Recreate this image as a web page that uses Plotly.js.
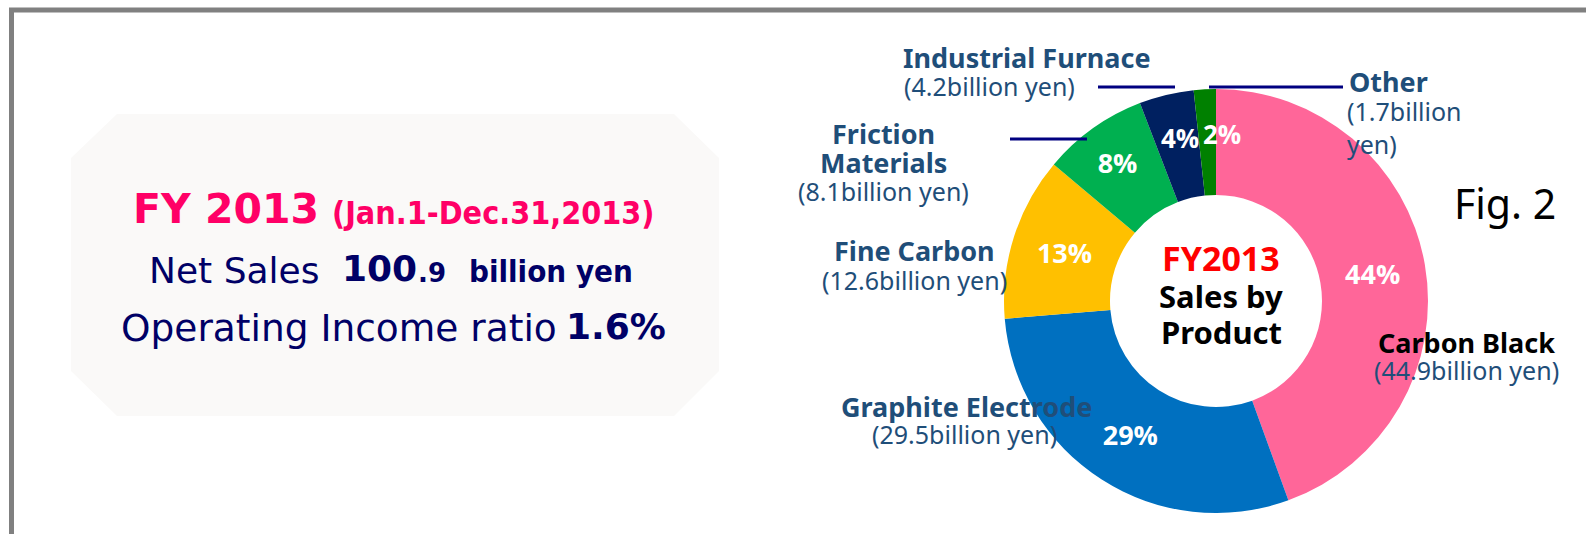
<!DOCTYPE html>
<html>
<head>
<meta charset="utf-8">
<script src="https://cdn.plot.ly/plotly-3.0.1.min.js"></script>
<style>
  html, body { margin: 0; padding: 0; background: #ffffff; }
  #chart { width: 1586px; height: 534px; }
</style>
</head>
<body>
<div id="chart"></div>
<script>
// ---- data ----
const categories = ['Carbon Black', 'Graphite Electrode', 'Fine Carbon', 'Friction Materials', 'Industrial Furnace', 'Other'];
const salesBillionYen = [44.9, 29.5, 12.6, 8.1, 4.2, 1.7];
const percentLabels = ['44%', '29%', '13%', '8%', '4%', '2%'];
const amountLabels = ['(44.9billion yen)', '(29.5billion yen)', '(12.6billion yen)', '(8.1billion yen)', '(4.2billion yen)', '(1.7billion<br>yen)'];
const sliceColors = ['#FF6699', '#0070C0', '#FFC000', '#00B050', '#002060', '#008000'];
const centerTitle = ['FY2013', 'Sales by', 'Product'];
const summaryTitle = 'FY 2013';
const summaryPeriod = '(Jan.1-Dec.31,2013)';
const netSales = ['100', '.9'];
const opRatio = '1.6%';
const figLabel = 'Fig. 2';

// ---- geometry helpers ----
const W = 1586, H = 534;
const X = px => px / W;
const Y = py => 1 - py / H;

const pieCx = 1216, pieCy = 301, pieR = 212;
const smallSlice = [false, false, false, false, true, true];

const LBL = '#1F4E79';
const NAVY = '#000066';
const labelFont = 'Noto Sans, Open Sans, sans-serif';

function txt(x, y, text, size, color, bold, anchor, family, extra) {
  return Object.assign({
    xref: 'paper', yref: 'paper', x: X(x), y: Y(y), text: text, showarrow: false,
    xanchor: anchor || 'center', yanchor: 'middle',
    font: { family: family || labelFont, size: size, color: color, weight: bold ? 700 : 400 }
  }, extra || {});
}

const annotations = [];
const shapes = [];

// frame (top + left edges)
shapes.push({ type: 'line', xref: 'paper', yref: 'paper', x0: X(9), x1: 1, y0: Y(10), y1: Y(10), line: { color: '#808080', width: 5 } });
shapes.push({ type: 'line', xref: 'paper', yref: 'paper', x0: X(11.5), x1: X(11.5), y0: Y(8), y1: 0, line: { color: '#808080', width: 5 } });

// summary panel (chamfered box)
const pts = [[117,114],[674,114],[719,158],[719,371],[674,416],[117,416],[71,371],[71,158]];
shapes.push({
  type: 'path', xref: 'paper', yref: 'paper', layer: 'below',
  path: 'M ' + pts.map(p => X(p[0]) + ',' + Y(p[1])).join(' L ') + ' Z',
  fillcolor: '#FAF9F8', line: { width: 0 }
});

// summary panel text
const PINK = '#FF0066';
annotations.push(txt(131, 209, summaryTitle, 41, PINK, true, 'left', 'DejaVu Sans'));
annotations.push(txt(330, 213, summaryPeriod, 32, PINK, true, 'left', 'DejaVu Sans Condensed, DejaVu Sans'));
annotations.push(txt(147, 270, 'Net Sales', 36, NAVY, false, 'left', 'DejaVu Sans'));
annotations.push(txt(340, 268, netSales[0], 36, NAVY, true, 'left', 'DejaVu Sans'));
annotations.push(txt(416, 273, netSales[1], 26, NAVY, true, 'left', 'DejaVu Sans'));
annotations.push(txt(467, 271, 'billion yen', 31, NAVY, true, 'left', 'DejaVu Sans Condensed, DejaVu Sans'));
annotations.push(txt(119, 328, 'Operating Income ratio', 37.5, NAVY, false, 'left', 'DejaVu Sans'));
annotations.push(txt(668, 326, opRatio, 36, NAVY, true, 'right', 'DejaVu Sans'));

// category labels
annotations.push(txt(1027, 57, '<b>Industrial Furnace</b>', 27, LBL, true));
annotations.push(txt(990, 86, amountLabels[4], 25, LBL, false));
annotations.push(txt(884, 133, '<b>Friction</b>', 27, LBL, true));
annotations.push(txt(884, 162, '<b>Materials</b>', 27, LBL, true));
annotations.push(txt(884, 191, amountLabels[3], 25, LBL, false));
annotations.push(txt(915, 251, '<b>Fine Carbon</b>', 27, LBL, true));
annotations.push(txt(915, 280, amountLabels[2], 25, LBL, false));
annotations.push(txt(966, 406, '<b>Graphite Electrode</b>', 27, LBL, true));
annotations.push(txt(964, 434, amountLabels[1], 25, LBL, false));
annotations.push(txt(1347, 82, '<b>Other</b>', 27, LBL, true, 'left'));
annotations.push(txt(1345, 127, amountLabels[5], 25, LBL, false, 'left', labelFont, { align: 'left' }));
annotations.push(txt(1466, 342, '<b>Carbon Black</b>', 27, '#000000', true));
annotations.push(txt(1466, 370, amountLabels[0], 25, LBL, false));
annotations.push(txt(1505, 203, figLabel, 41, '#000000', false, 'center', 'Noto Sans, Open Sans, sans-serif'));

// leader lines
const leaders = [[1098, 1175, 87], [1010, 1087, 139], [1209, 1343, 87]];
leaders.forEach(l => shapes.push({ type: 'line', xref: 'paper', yref: 'paper', x0: X(l[0]), x1: X(l[1]), y0: Y(l[2]), y1: Y(l[2]), line: { color: '#000080', width: 3 } }));

// donut centre title
annotations.push(txt(pieCx + 5, 258, '<b>' + centerTitle[0] + '</b>', 34, '#FF0000', true));
annotations.push(txt(pieCx + 5, 296, '<b>' + centerTitle[1] + '</b>', 31, '#000000', true));
annotations.push(txt(pieCx + 5, 332, '<b>' + centerTitle[2] + '</b>', 31, '#000000', true));

// percent labels for the thin slices (placed at their bisector angle)
const total = salesBillionYen.reduce((a, b) => a + b, 0);
let cum = 0;
const smallShift = { 4: 3, 5: 15 };
salesBillionYen.forEach((v, i) => {
  const mid = (cum + v / 2) / total * 2 * Math.PI;
  cum += v;
  if (!smallSlice[i]) return;
  const r = pieR * 0.79;
  const px = pieCx + r * Math.sin(mid);
  const py = pieCy - r * Math.cos(mid);
  annotations.push(txt(px, py, '<b>' + percentLabels[i] + '</b>', 26, '#FFFFFF', true, 'center', 'Open Sans, Noto Sans, sans-serif', { xshift: smallShift[i] }));
});

const trace = {
  type: 'pie',
  labels: categories,
  values: salesBillionYen,
  text: percentLabels,
  textinfo: 'text',
  texttemplate: '<b>%{text}</b>',
  textposition: smallSlice.map(s => s ? 'none' : 'inside'),
  insidetextorientation: 'horizontal',
  insidetextfont: { family: 'Open Sans, Noto Sans, sans-serif', size: 27, color: '#FFFFFF' },
  hole: 0.5,
  sort: false,
  direction: 'clockwise',
  rotation: 0,
  marker: { colors: sliceColors, line: { width: 0 } },
  domain: { x: [X(pieCx - pieR), X(pieCx + pieR)], y: [Y(pieCy + pieR), Y(pieCy - pieR)] },
  showlegend: false,
  hoverinfo: 'label+value+percent'
};

const layout = {
  width: W, height: H,
  margin: { l: 0, r: 0, t: 0, b: 0 },
  paper_bgcolor: '#FFFFFF',
  plot_bgcolor: '#FFFFFF',
  showlegend: false,
  shapes: shapes,
  annotations: annotations
};

Plotly.newPlot('chart', [trace], layout, { displayModeBar: false, staticPlot: true });
</script>
</body>
</html>
